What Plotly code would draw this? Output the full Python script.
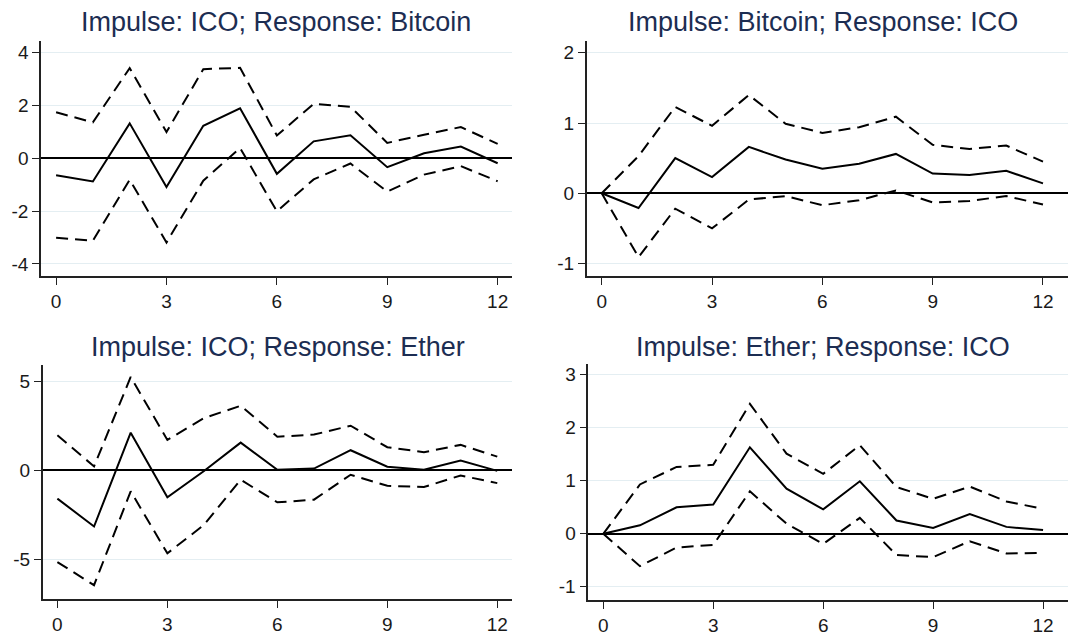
import plotly.graph_objects as go

steps = list(range(13))

titles = [
    "Impulse: ICO; Response: Bitcoin",
    "Impulse: Bitcoin; Response: ICO",
    "Impulse: ICO; Response: Ether",
    "Impulse: Ether; Response: ICO",
]

# Panel 1: Impulse ICO -> Bitcoin
irf1 = [-0.64, -0.88, 1.32, -1.09, 1.23, 1.89, -0.59, 0.64, 0.87, -0.34, 0.19, 0.44, -0.19]
up1 = [1.74, 1.36, 3.41, 0.99, 3.37, 3.42, 0.86, 2.06, 1.95, 0.58, 0.89, 1.18, 0.54]
lo1 = [-3.01, -3.12, -0.81, -3.19, -0.85, 0.39, -2.01, -0.80, -0.20, -1.26, -0.62, -0.30, -0.87]

# Panel 2: Impulse Bitcoin -> ICO
irf2 = [0.0, -0.21, 0.50, 0.23, 0.66, 0.48, 0.35, 0.42, 0.56, 0.28, 0.26, 0.32, 0.14]
up2 = [0.0, 0.53, 1.23, 0.96, 1.40, 0.99, 0.86, 0.94, 1.09, 0.69, 0.63, 0.68, 0.45]
lo2 = [0.0, -0.91, -0.22, -0.50, -0.09, -0.04, -0.17, -0.10, 0.04, -0.13, -0.11, -0.04, -0.16]

# Panel 3: Impulse ICO -> Ether
irf3 = [-1.60, -3.17, 2.11, -1.53, -0.05, 1.55, 0.02, 0.09, 1.12, 0.19, 0.02, 0.54, -0.04]
up3 = [1.96, 0.21, 5.24, 1.70, 2.93, 3.62, 1.88, 2.00, 2.50, 1.29, 1.01, 1.42, 0.76]
lo3 = [-5.17, -6.47, -1.19, -4.68, -3.08, -0.54, -1.81, -1.66, -0.26, -0.88, -0.95, -0.30, -0.73]

# Panel 4: Impulse Ether -> ICO
irf4 = [0.0, 0.16, 0.50, 0.55, 1.63, 0.85, 0.46, 0.99, 0.25, 0.11, 0.37, 0.13, 0.07]
up4 = [0.0, 0.93, 1.26, 1.30, 2.45, 1.51, 1.13, 1.67, 0.88, 0.66, 0.89, 0.61, 0.47]
lo4 = [0.0, -0.61, -0.26, -0.21, 0.80, 0.19, -0.19, 0.30, -0.40, -0.44, -0.14, -0.37, -0.36]

yticks = [[-4, -2, 0, 2, 4], [-1, 0, 1, 2], [-5, 0, 5], [-1, 0, 1, 2, 3]]
xticks = [0, 3, 6, 9, 12]

panels = [(irf1, up1, lo1), (irf2, up2, lo2), (irf3, up3, lo3), (irf4, up4, lo4)]

# layout geometry
xdom = [[0.0384, 0.4794], [0.5493, 1.0], [0.0400, 0.4790], [0.5508, 1.0]]
ydom = [[0.5645, 0.9355], [0.5645, 0.9355], [0.0546, 0.4250], [0.0535, 0.4266]]
xrng = [[-0.41, 12.39], [-0.41, 12.68], [-0.40, 12.39], [-0.41, 12.68]]
yrng = [[-4.46, 4.44], [-1.18, 2.17], [-7.27, 5.94], [-1.25, 3.21]]
title_xy = [(0.258, 0.966), (0.771, 0.966), (0.260, 0.453), (0.771, 0.453)]

fig = go.Figure()
for i, (irf, up, lo) in enumerate(panels):
    n = i + 1
    xa = "x" if n == 1 else f"x{n}"
    ya = "y" if n == 1 else f"y{n}"
    for vals, dash in [(up, "12px,7px"), (lo, "12px,7px"), (irf, "solid")]:
        fig.add_trace(go.Scatter(
            x=steps, y=vals, mode="lines", xaxis=xa, yaxis=ya,
            line=dict(color="black", width=2, dash=dash),
            showlegend=False, hoverinfo="skip", cliponaxis=False,
        ))
    axis_common = dict(
        showline=True, linecolor="#222222", linewidth=1.5,
        ticks="outside", ticklen=7, tickwidth=1.3, tickcolor="#222222",
        tickfont=dict(family="Liberation Sans, Arial", size=19, color="#1a1a1a"),
    )
    fig.layout[f"xaxis{'' if n == 1 else n}"] = dict(
        domain=xdom[i], range=xrng[i], anchor=ya,
        tickvals=xticks, ticktext=[str(t) for t in xticks],
        showgrid=False, zeroline=False, **axis_common,
    )
    fig.layout[f"yaxis{'' if n == 1 else n}"] = dict(
        domain=ydom[i], range=yrng[i], anchor=xa,
        tickvals=yticks[i], ticktext=[str(t) for t in yticks[i]],
        showgrid=True, gridcolor="#e4eef2", gridwidth=1.2,
        zeroline=True, zerolinecolor="black", zerolinewidth=2,
        **axis_common,
    )
    fig.add_annotation(
        text=titles[i], x=title_xy[i][0], y=title_xy[i][1], xref="paper", yref="paper",
        xanchor="center", yanchor="middle", showarrow=False,
        font=dict(family="Liberation Sans, Arial", size=27, color="#1c2d52"),
    )

fig.update_layout(
    width=1068, height=636, margin=dict(l=0, r=0, t=0, b=0),
    paper_bgcolor="white", plot_bgcolor="white",
)

fig.write_html(
    "out.html",
    config={"displayModeBar": False},
    post_script="document.body.style.margin='0';document.body.style.overflow='hidden';",
)
